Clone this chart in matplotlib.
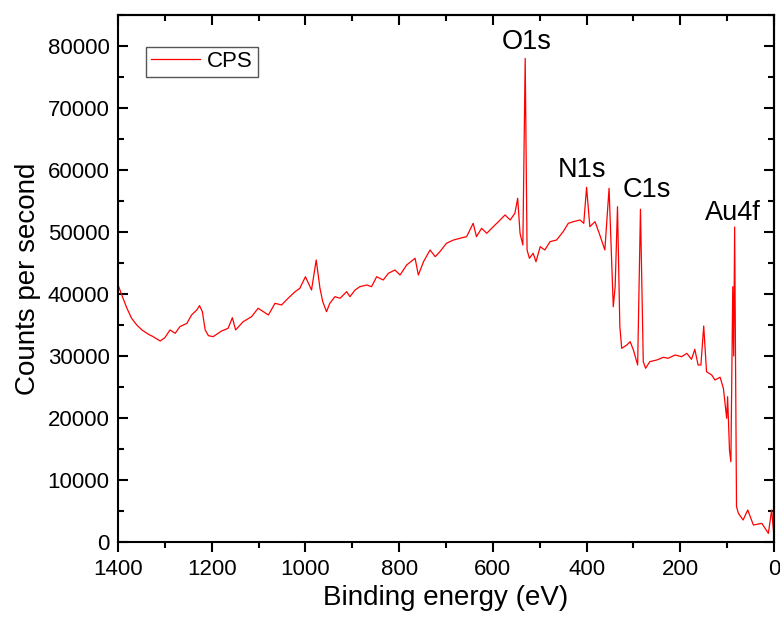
#!/usr/bin/env python3
"""XPS survey spectrum (CPS vs binding energy) with labelled core-level peaks."""

import matplotlib

matplotlib.use("Agg")
import matplotlib.pyplot as plt
from matplotlib.ticker import MultipleLocator

plt.rcParams["font.family"] = ["Liberation Sans", "DejaVu Sans"]

# Binding energy (eV) and counts per second
energy = [
    1400, 1392, 1381, 1371, 1360, 1349, 1335, 1325, 1310, 1300, 1289, 1278,
    1268, 1253, 1243, 1232, 1226, 1220, 1214, 1207, 1197, 1179, 1165, 1156,
    1149, 1133, 1115, 1101, 1090, 1079, 1065, 1051, 1037, 1022, 1012, 1000,
    987, 977, 969, 963, 955, 948, 937, 926, 912, 905, 894, 884, 869, 859,
    848, 834, 823, 809, 798, 784, 766, 759, 748, 734, 723, 713, 699, 684,
    670, 656, 642, 635, 624, 613, 599, 588, 574, 563, 553, 547, 542, 536,
    531, 527, 522, 514, 508, 499, 489, 478, 464, 450, 439, 428, 414, 406,
    400, 393, 382, 373, 361, 352, 343, 339, 334, 329, 325, 314, 307, 300,
    291, 285, 279, 274, 265, 250, 236, 226, 211, 197, 186, 176, 169, 162,
    156, 150, 144, 133, 126, 115, 108, 101, 99, 95, 92, 88, 86, 84, 80, 76,
    66, 56, 44, 26, 12, 5, 0,
]
cps = [
    41500, 39840, 37700, 36080, 35000, 34200, 33500, 33120, 32420, 32960, 34200, 33660,
    34730, 35270, 36620, 37420, 38120, 37150, 34200, 33280, 33120, 34030, 34470, 36180,
    34200, 35530, 36340, 37700, 37150, 36620, 38500, 38230, 39310, 40380, 40920, 42790,
    40650, 45490, 40920, 38760, 37150, 38500, 39570, 39310, 40380, 39570, 40650, 41180, 41450, 41180,
    42790, 42260, 43340, 43870, 43070, 44680, 45760, 43070, 45210, 47100, 46020, 46830, 48180, 48710,
    48990, 49250, 51400, 49250, 50600, 49790, 50860, 51670, 52750, 51940, 53020, 55440, 49790, 47900,
    78000, 47100, 45760, 46570, 45210, 47630, 47100, 48440, 48710, 50050, 51400, 51670, 51940, 51400,
    57200, 50860, 51670, 49790, 47100, 57050, 37950, 41180, 54080, 34730, 31240, 31780, 32310, 30970,
    28550, 53670, 29090, 28020, 29090, 29360, 29790, 29630, 30160, 29890, 30430, 29470, 31080, 28550,
    28550, 34840, 27470, 26940, 26130, 26570, 24790, 19950, 23440, 14840, 12950, 41180, 30000, 50800, 5700, 4630,
    3550, 5160, 2740, 3010, 1400, 5160, 860,
]

peak_labels = ["O1s", "N1s", "C1s", "Au4f"]
label_energy = [527, 410, 271, 87]
label_cps = [80700, 60000, 56800, 53100]


def main() -> None:
    fig = plt.figure(figsize=(7.8, 6.25), dpi=100)
    ax = fig.add_axes([0.1513, 0.1328, 0.8410, 0.8432])

    ax.plot(energy, cps, color="#ff0000", linewidth=0.9, label="CPS")

    for lab, e, c in zip(peak_labels, label_energy, label_cps):
        ax.text(e, c, lab, ha="center", va="center", fontsize=19.5)

    ax.set_xlim(1400, 0)
    ax.set_ylim(0, 85000)
    ax.xaxis.set_major_locator(MultipleLocator(200))
    ax.xaxis.set_minor_locator(MultipleLocator(100))
    ax.yaxis.set_major_locator(MultipleLocator(10000))
    ax.yaxis.set_minor_locator(MultipleLocator(5000))

    ax.tick_params(axis="x", which="both", direction="out", labelsize=16, width=1.5, pad=5)
    ax.tick_params(axis="y", which="both", direction="in", labelsize=16, width=1.5, pad=6)
    ax.tick_params(which="major", length=7)
    ax.tick_params(which="minor", length=4)

    # top and right axes carry inward ticks only
    top = ax.secondary_xaxis("top")
    top.xaxis.set_major_locator(MultipleLocator(200))
    top.xaxis.set_minor_locator(MultipleLocator(100))
    top.tick_params(which="both", direction="in", labeltop=False, width=1.5)
    top.tick_params(which="major", length=7)
    top.tick_params(which="minor", length=4)
    right = ax.secondary_yaxis("right")
    right.yaxis.set_major_locator(MultipleLocator(10000))
    right.yaxis.set_minor_locator(MultipleLocator(5000))
    right.tick_params(which="both", direction="in", labelright=False, width=1.5)
    right.tick_params(which="major", length=7)
    right.tick_params(which="minor", length=4)

    for sp in list(ax.spines.values()) + [top.spines["top"], right.spines["right"]]:
        sp.set_linewidth(1.5)

    ax.set_xlabel("Binding energy (eV)", fontsize=20, labelpad=4)
    ax.set_ylabel("Counts per second", fontsize=20, labelpad=5)

    leg = ax.legend(loc="upper left", bbox_to_anchor=(0.043, 0.94), fontsize=16,
                    fancybox=False, framealpha=1, edgecolor="#555555",
                    handlelength=2.2, handletextpad=0.35, borderpad=0.2,
                    borderaxespad=0.0)
    leg.get_frame().set_linewidth(1.0)

    fig.savefig("out.png", dpi=100)
    plt.close(fig)


if __name__ == "__main__":
    main()
